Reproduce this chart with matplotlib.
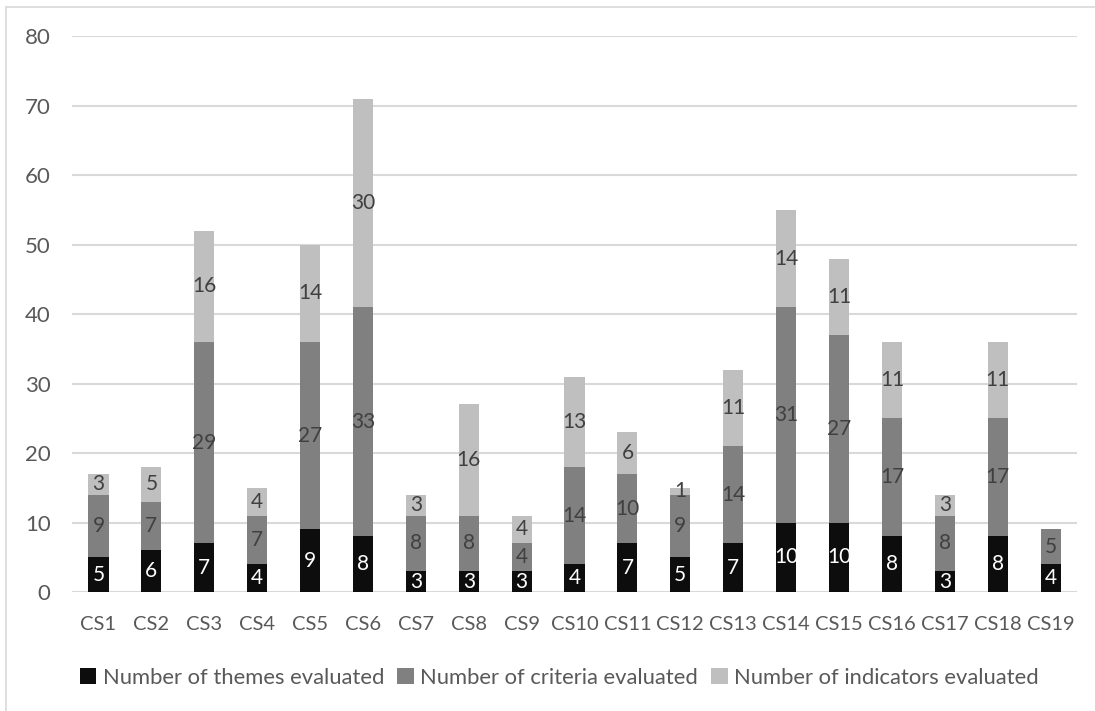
import matplotlib.pyplot as plt
import numpy as np
from matplotlib.patches import Rectangle

plt.rcParams['font.family'] = ['Lato', 'DejaVu Sans']

cases = ["CS%d" % i for i in range(1, 20)]
themes = [5, 6, 7, 4, 9, 8, 3, 3, 3, 4, 7, 5, 7, 10, 10, 8, 3, 8, 4]
criteria = [9, 7, 29, 7, 27, 33, 8, 8, 4, 14, 10, 9, 14, 31, 27, 17, 8, 17, 5]
indicators = [3, 5, 16, 4, 14, 30, 3, 16, 4, 13, 6, 1, 11, 14, 11, 11, 3, 11, 0]

series = [
    ("Number of themes evaluated", themes, "#0d0d0d", "white"),
    ("Number of criteria evaluated", criteria, "#808080", "#404040"),
    ("Number of indicators evaluated", indicators, "#bfbfbf", "#404040"),
]

fig = plt.figure(figsize=(10.95, 7.11), dpi=100)
ax = fig.add_axes([0.0658, 0.1674, 0.9178, 0.7813])

# light frame along the top and left edges
fig.patches.append(Rectangle((6 / 1095, -0.1), 1.2, 1 - 7 / 711 + 0.1,
                             transform=fig.transFigure, fill=False,
                             edgecolor="#d9d9d9", linewidth=1.2))

x = np.arange(len(cases))
bottom = np.zeros(len(cases))
for name, vals, color, tcolor in series:
    vals = np.array(vals)
    ax.bar(x, vals, 0.38, bottom=bottom, color=color, label=name, zorder=3)
    for xi, b, v in zip(x, bottom, vals):
        if v > 0:
            ax.text(xi, b + v / 2, str(v), ha="center", va="center",
                    color=tcolor, fontsize=15, zorder=4)
    bottom += vals

ax.set_xlim(-0.5, len(cases) - 0.5)
ax.set_ylim(0, 80)
ax.set_yticks(range(0, 81, 10))
ax.set_xticks(x)
ax.set_xticklabels(cases)
ax.yaxis.grid(True, color="#d9d9d9", linewidth=1.5, zorder=0)
for s in ax.spines.values():
    s.set_visible(False)
ax.tick_params(length=0, colors="#595959")
ax.tick_params(axis="y", pad=15.5, labelsize=16)
ax.tick_params(axis="x", pad=17, labelsize=14.5)

ax.legend(loc="center", bbox_to_anchor=(0.485, -0.155), ncol=3, frameon=False,
          fontsize=15.8, labelcolor="#595959", handlelength=0.75, handleheight=0.75,
          handletextpad=0.3, columnspacing=0.6)

fig.savefig("out.png", dpi=100)
